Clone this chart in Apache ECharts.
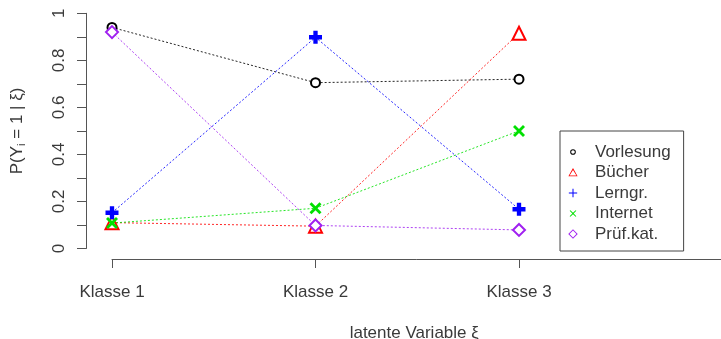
<!DOCTYPE html>
<html>
<head>
<meta charset="utf-8">
<script src="https://cdn.jsdelivr.net/npm/echarts@6/dist/echarts.min.js"></script>
<style>html,body{margin:0;padding:0;background:#fff}#c{width:721px;height:339px}</style>
</head>
<body>
<div id="c"></div>
<script>
const categories = ['Klasse 1', 'Klasse 2', 'Klasse 3'];
const seriesNames = ['Vorlesung', 'Bücher', 'Lerngr.', 'Internet', 'Prüf.kat.'];
const vorlesung = [0.94, 0.705, 0.72];
const buecher = [0.11, 0.095, 0.915];
const lerngr = [0.152, 0.898, 0.167];
const internet = [0.108, 0.171, 0.50];
const pruefkat = [0.92, 0.098, 0.079];
const yTicks = [0, 0.2, 0.4, 0.6, 0.8, 1];

const colors = ['#000000', '#ff0000', '#0000ff', '#00e000', '#a020f0'];
const valuesList = [vorlesung, buecher, lerngr, internet, pruefkat];
const PLUS = 'path://M4,0H8V4H12V8H8V12H4V8H0V4H4Z';
const CROSS = 'path://M0,2L2,0L6,4L10,0L12,2L8,6L12,10L10,12L6,8L2,12L0,10L4,6Z';
const CORNERS = 'M0,0L0.01,0L0,0.01ZM12,12L11.99,12L12,11.99Z';
const PLUS_THIN = 'path://' + CORNERS + 'M5.4,1H6.6V5.4H11V6.6H6.6V11H5.4V6.6H1V5.4H5.4Z';
const CROSS_THIN = 'path://' + CORNERS + 'M2,2.8L2.8,2L6,5.2L9.2,2L10,2.8L6.8,6L10,9.2L9.2,10L6,6.8L2.8,10L2,9.2L5.2,6Z';
const RING_THIN = 'path://' + CORNERS + 'M6,2.6A3.4,3.4 0 1,1 6,9.4A3.4,3.4 0 1,1 6,2.6ZM6,3.8A2.2,2.2 0 1,0 6,8.2A2.2,2.2 0 1,0 6,3.8Z';
const TRI_THIN = 'path://' + CORNERS + 'M6,0.5L11.5,10.5L0.5,10.5ZM6,2.9L1.9,9.5L10.1,9.5Z';
const DIAM_THIN = 'path://' + CORNERS + 'M6,0.3L11.7,6L6,11.7L0.3,6ZM6,1.9L1.9,6L6,10.1L10.1,6Z';
const symbols = ['emptyCircle', 'emptyTriangle', PLUS, CROSS, 'emptyDiamond'];
const symbolSizes = [9, 13, 13, 12, 12];
const legendIcons = [RING_THIN, TRI_THIN, PLUS_THIN, CROSS_THIN, DIAM_THIN];

const FONT = '"Liberation Sans", Arial, sans-serif';
const FS = 17;
const TXT = '#3a3a3a';
const AX = '#555555';

const series = seriesNames.map((name, i) => ({
  name: name,
  type: 'line',
  data: valuesList[i].map((v, k) => [k + 1, v]),
  symbol: symbols[i],
  symbolSize: symbolSizes[i],
  showSymbol: true,
  itemStyle: { color: colors[i], borderColor: colors[i], borderWidth: (i === 0 || i === 1 || i === 4) ? 2.5 : 0 },
  lineStyle: { color: colors[i], width: 1, type: [2, 2], opacity: 0.85 },
  emphasis: { disabled: true },
  z: 2
}));

const chart = echarts.init(document.getElementById('c'), null, { renderer: 'canvas' });
chart.setOption({
  animation: false,
  backgroundColor: '#ffffff',
  textStyle: { fontFamily: FONT },
  grid: { left: 112, top: 13.3, width: 610.5, height: 235.2, containLabel: false, outerBoundsMode: 'none' },
  xAxis: {
    type: 'value', min: 1, max: 4, interval: 1,
    offset: 10.5,
    axisLine: { show: true, onZero: false, lineStyle: { color: AX, width: 1 } },
    axisTick: { show: true, length: 9, inside: false, lineStyle: { color: AX } },
    axisLabel: {
      margin: 25, color: TXT, fontSize: FS, fontFamily: FONT,
      formatter: v => (v >= 1 && v <= categories.length) ? categories[v - 1] : '',
      showMaxLabel: false
    },
    splitLine: { show: false },
    name: 'latente Variable ξ',
    nameLocation: 'middle',
    nameGap: 66,
    nameTextStyle: { color: TXT, fontSize: FS, fontFamily: FONT, padding: [0, 6, 0, 0] }
  },
  yAxis: {
    type: 'value', min: 0, max: 1, interval: 0.2,
    offset: 26,
    axisLine: { show: true, onZero: false, lineStyle: { color: AX, width: 1 } },
    axisTick: { show: true, length: 9, lineStyle: { color: AX } },
    minorTick: { show: true, splitNumber: 2, length: 9, lineStyle: { color: AX } },
    axisLabel: {
      rotate: 90, margin: 18, color: TXT, fontSize: FS, fontFamily: FONT,
      formatter: v => { const t = yTicks.find(x => Math.abs(x - v) < 1e-6); return t === undefined ? '' : String(t); }
    },
    splitLine: { show: false },
    name: 'P(Y{s|i} = 1 | ξ)',
    nameLocation: 'middle',
    nameRotate: 90,
    nameGap: 59,
    nameTextStyle: {
      color: TXT, fontSize: FS, fontFamily: FONT, lineHeight: 20,
      rich: { s: { fontSize: 11, color: TXT, fontFamily: FONT, verticalAlign: 'bottom', lineHeight: 20, padding: [9, 0, 0, 0] } }
    }
  },
  legend: {
    orient: 'vertical',
    left: 560, top: 131,
    padding: [11, 13, 7, 8],
    itemWidth: 10, itemHeight: 10,
    itemGap: 0.5,
    borderColor: '#444', borderWidth: 1, borderRadius: 0,
    backgroundColor: '#fff',
    selectedMode: false,
    textStyle: { color: TXT, fontSize: FS, fontFamily: FONT, lineHeight: 20, padding: [0, 0, 0, 12] },
    data: seriesNames.map((n, i) => ({
      name: n,
      icon: legendIcons[i],
      itemStyle: { color: colors[i], borderWidth: 0 }
    }))
  },
  series: series
});
</script>
</body>
</html>
